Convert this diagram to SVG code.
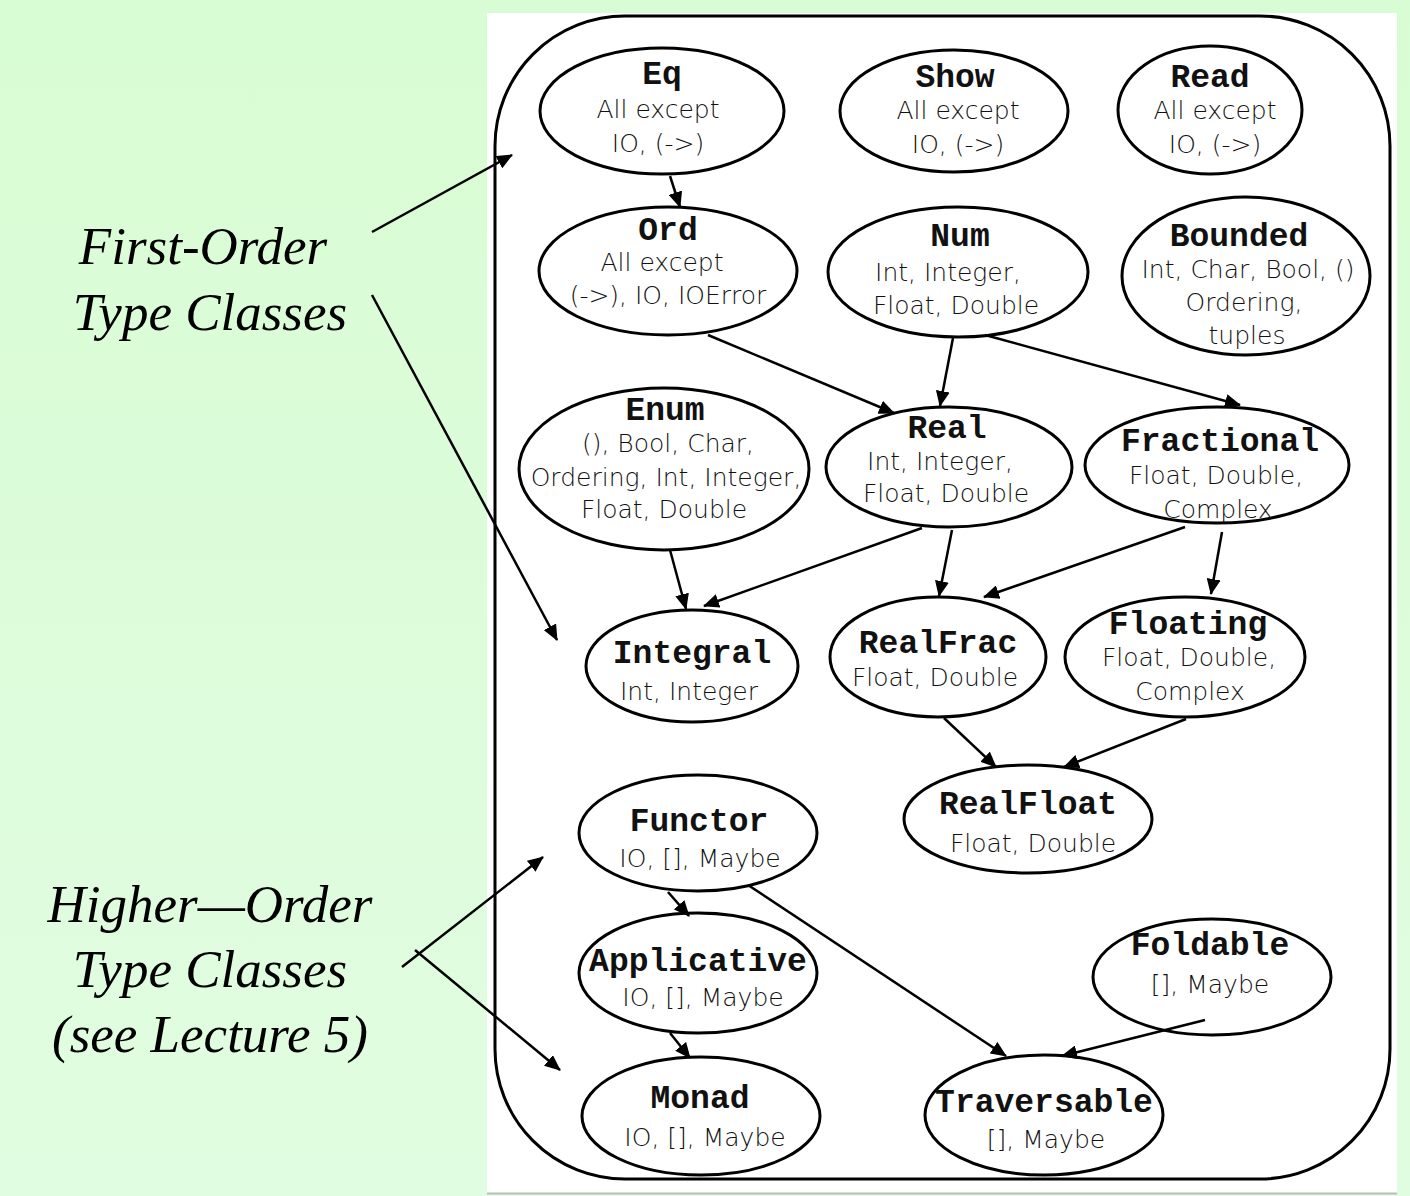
<svg xmlns="http://www.w3.org/2000/svg" width="1410" height="1196" viewBox="0 0 1410 1196">
<defs>
<linearGradient id="bg" x1="0" y1="0" x2="0" y2="1">
<stop offset="0" stop-color="#d8fcd3"/>
<stop offset="1" stop-color="#e1fde1"/>
</linearGradient>
<marker id="ah" viewBox="0 0 16 14" refX="15" refY="7" markerWidth="16" markerHeight="14" markerUnits="userSpaceOnUse" orient="auto">
<path d="M0,0 L16,7 L0,14 Z" fill="#000"/>
</marker>
</defs>
<style>
.node ellipse{fill:#fff;stroke:#000;stroke-width:3}
.nm{font-family:"Liberation Mono","Courier New",monospace;font-weight:bold;font-size:33px;fill:#111;text-anchor:middle}
.sb{font-family:"DejaVu Sans",Verdana,sans-serif;font-weight:200;font-size:25px;fill:#111;text-anchor:middle}
.edges line{stroke:#000;stroke-width:2.5;marker-end:url(#ah)}
.lab{font-family:"Liberation Serif","Times New Roman",serif;font-style:italic;font-size:53px;fill:#000;text-anchor:middle}
</style>
<rect x="0" y="0" width="1410" height="1196" fill="url(#bg)"/>
<rect x="487" y="13" width="910" height="1180" fill="#fff"/>
<line x1="487" y1="1193.5" x2="1397" y2="1193.5" stroke="#bbb" stroke-width="2"/>
<rect id="frame" x="495" y="16" width="895" height="1163" rx="130" ry="130" fill="none" stroke="#000" stroke-width="3"/>

<g id="label-first">
<text class="lab" x="203" y="264">First-Order</text>
<text class="lab" x="210" y="330">Type Classes</text>
</g>
<g id="label-higher">
<text class="lab" x="210" y="922">Higher—Order</text>
<text class="lab" x="210" y="987">Type Classes</text>
<text class="lab" x="210" y="1052">(see Lecture 5)</text>
</g>

<g id="eq" class="node"><ellipse cx="662" cy="111" rx="122" ry="63"/><text class="nm" x="662" y="84">Eq</text><text class="sb" x="658" y="118">All except</text><text class="sb" x="658" y="152">IO, (-&gt;)</text></g>
<g id="show" class="node"><ellipse cx="954" cy="111" rx="114" ry="61"/><text class="nm" x="955" y="87">Show</text><text class="sb" x="958" y="119">All except</text><text class="sb" x="958" y="153">IO, (-&gt;)</text></g>
<g id="read" class="node"><ellipse cx="1210" cy="110" rx="92" ry="64"/><text class="nm" x="1210" y="87">Read</text><text class="sb" x="1215" y="119">All except</text><text class="sb" x="1215" y="153">IO, (-&gt;)</text></g>
<g id="ord" class="node"><ellipse cx="668" cy="271" rx="129" ry="64"/><text class="nm" x="668" y="240">Ord</text><text class="sb" x="662" y="271">All except</text><text class="sb" x="668" y="304">(-&gt;), IO, IOError</text></g>
<g id="num" class="node"><ellipse cx="958" cy="272" rx="130" ry="65"/><text class="nm" x="960" y="246">Num</text><text class="sb" x="948" y="281">Int, Integer,</text><text class="sb" x="956" y="314">Float, Double</text></g>
<g id="bounded" class="node"><ellipse cx="1246" cy="276" rx="124" ry="79"/><text class="nm" x="1239" y="246">Bounded</text><text class="sb" x="1248" y="278">Int, Char, Bool, ()</text><text class="sb" x="1244" y="311">Ordering,</text><text class="sb" x="1247" y="344">tuples</text></g>
<g id="enum" class="node"><ellipse cx="664" cy="469" rx="145" ry="81"/><text class="nm" x="665" y="420">Enum</text><text class="sb" x="668" y="452">(), Bool, Char,</text><text class="sb" x="666" y="486">Ordering, Int, Integer,</text><text class="sb" x="664" y="518">Float, Double</text></g>
<g id="real" class="node"><ellipse cx="949" cy="467" rx="123" ry="60"/><text class="nm" x="947" y="438">Real</text><text class="sb" x="940" y="470">Int, Integer,</text><text class="sb" x="946" y="502">Float, Double</text></g>
<g id="fractional" class="node"><ellipse cx="1217" cy="465" rx="132" ry="58"/><text class="nm" x="1220" y="451">Fractional</text><text class="sb" x="1216" y="484">Float, Double,</text><text class="sb" x="1218" y="518">Complex</text></g>
<g id="integral" class="node"><ellipse cx="692" cy="666" rx="106" ry="56"/><text class="nm" x="692" y="663">Integral</text><text class="sb" x="689" y="700">Int, Integer</text></g>
<g id="realfrac" class="node"><ellipse cx="938" cy="657" rx="108" ry="60"/><text class="nm" x="938" y="653">RealFrac</text><text class="sb" x="935" y="686">Float, Double</text></g>
<g id="floating" class="node"><ellipse cx="1185" cy="657" rx="120" ry="60"/><text class="nm" x="1188" y="634">Floating</text><text class="sb" x="1189" y="666">Float, Double,</text><text class="sb" x="1190" y="700">Complex</text></g>
<g id="realfloat" class="node"><ellipse cx="1028" cy="819" rx="124" ry="54"/><text class="nm" x="1028" y="814">RealFloat</text><text class="sb" x="1033" y="852">Float, Double</text></g>
<g id="functor" class="node"><ellipse cx="698" cy="833" rx="119" ry="58"/><text class="nm" x="699" y="831">Functor</text><text class="sb" x="700" y="867">IO, [], Maybe</text></g>
<g id="applicative" class="node"><ellipse cx="698" cy="973" rx="119" ry="60"/><text class="nm" x="698" y="971">Applicative</text><text class="sb" x="703" y="1006">IO, [], Maybe</text></g>
<g id="monad" class="node"><ellipse cx="701" cy="1116" rx="119" ry="59"/><text class="nm" x="700" y="1108">Monad</text><text class="sb" x="705" y="1146">IO, [], Maybe</text></g>
<g id="traversable" class="node"><ellipse cx="1044" cy="1115" rx="119" ry="60"/><text class="nm" x="1044" y="1112">Traversable</text><text class="sb" x="1046" y="1148">[], Maybe</text></g>
<g id="foldable" class="node"><ellipse cx="1212" cy="977" rx="119" ry="58"/><text class="nm" x="1210" y="955">Foldable</text><text class="sb" x="1210" y="993">[], Maybe</text></g>

<g id="connectors" class="edges">
<line x1="670" y1="176" x2="680" y2="207"/>
<line x1="708" y1="335" x2="894" y2="413"/>
<line x1="953" y1="338" x2="940" y2="406"/>
<line x1="985" y1="335" x2="1240" y2="405"/>
<line x1="670" y1="550" x2="686" y2="609"/>
<line x1="922" y1="528" x2="704" y2="606"/>
<line x1="952" y1="530" x2="939" y2="596"/>
<line x1="1185" y1="527" x2="984" y2="597"/>
<line x1="1222" y1="532" x2="1211" y2="594"/>
<line x1="944" y1="718" x2="996" y2="767"/>
<line x1="1186" y1="719" x2="1064" y2="767"/>
<line x1="668" y1="892" x2="689" y2="916"/>
<line x1="748" y1="885" x2="1006" y2="1056"/>
<line x1="670" y1="1033" x2="690" y2="1058"/>
<line x1="1205" y1="1020" x2="1062" y2="1056"/>
<line x1="372" y1="232" x2="512" y2="155"/>
<line x1="372" y1="295" x2="557" y2="640"/>
<line x1="402" y1="967" x2="543" y2="857"/>
<line x1="415" y1="950" x2="560" y2="1070"/>
</g>
</svg>
